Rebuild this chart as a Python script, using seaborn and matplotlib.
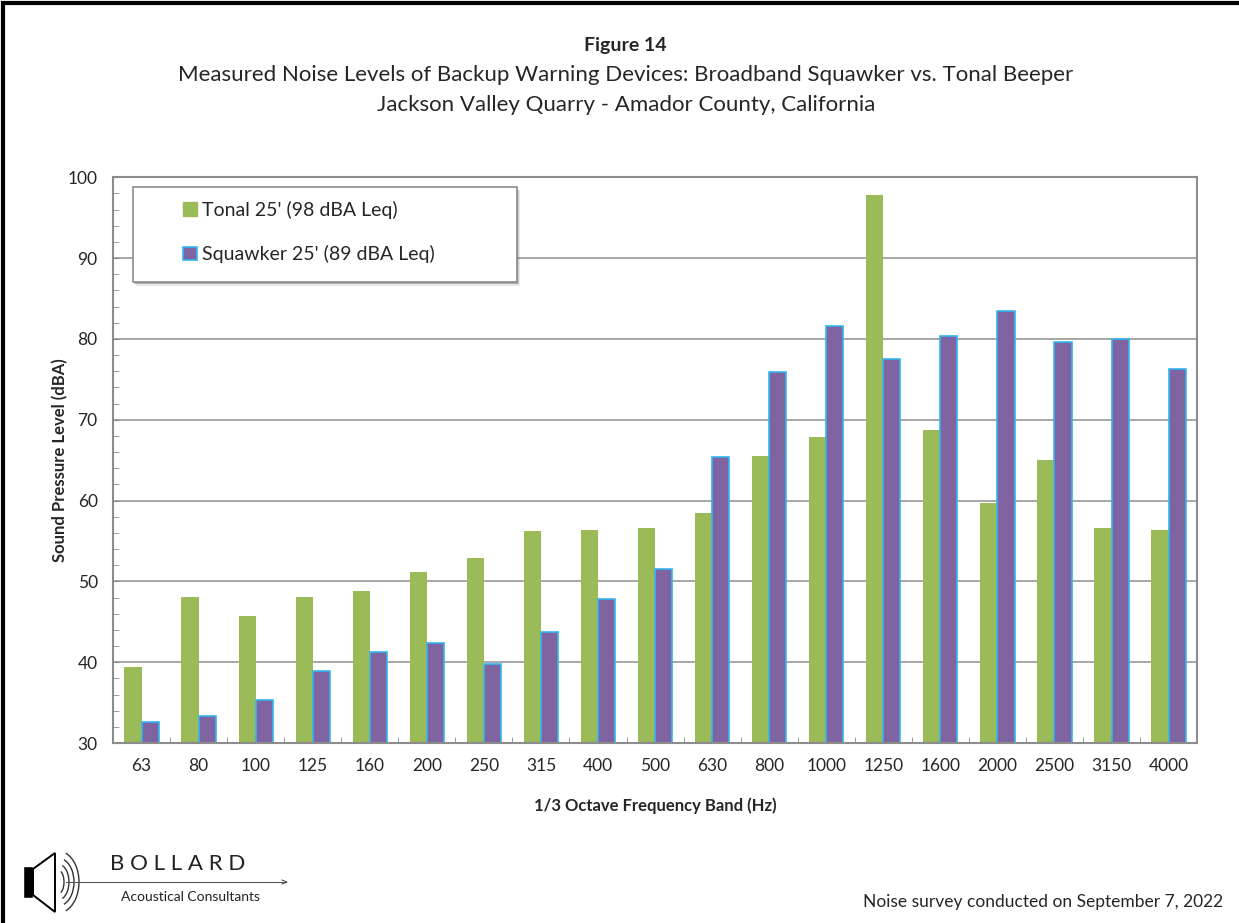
import numpy as np
import pandas as pd
import matplotlib
matplotlib.use('Agg')
import matplotlib.pyplot as plt
import matplotlib.patches as mpatches
from matplotlib.patches import Arc, Polygon, Rectangle
from matplotlib.ticker import MultipleLocator
import seaborn as sns

# Data
bands = ['63', '80', '100', '125', '160', '200', '250', '315', '400', '500',
         '630', '800', '1000', '1250', '1600', '2000', '2500', '3150', '4000']
tonal = [39.4, 48.1, 45.7, 48.1, 48.8, 51.1, 52.9, 56.2, 56.3, 56.6,
         58.4, 65.5, 67.8, 97.8, 68.7, 59.7, 65.0, 56.6, 56.4]
squawker = [32.6, 33.4, 35.3, 38.9, 41.2, 42.4, 39.8, 43.7, 47.8, 51.5,
            65.4, 75.9, 81.6, 77.5, 80.4, 83.4, 79.6, 80.0, 76.3]
series_names = ["Tonal 25' (98 dBA Leq)", "Squawker 25' (89 dBA Leq)"]
colors = ['#9BBB59', '#8064A2']
edge_blue = '#33B5F0'

df = pd.DataFrame({
    'band': bands * 2,
    'level': tonal + squawker,
    'series': [series_names[0]] * len(bands) + [series_names[1]] * len(bands),
})

sns.set_style('white')
plt.rcParams['font.family'] = ['Lato', 'DejaVu Sans']

fig = plt.figure(figsize=(12.39, 9.23), dpi=100)
ax = fig.add_axes([0.0912, 0.195, 0.8750, 0.613])

sns.barplot(data=df, x='band', y='level', hue='series', order=bands,
            hue_order=series_names, palette=colors, width=0.6,
            saturation=1, ax=ax, legend=False)

for bar in ax.containers[0]:
    bar.set_linewidth(0)
for bar in ax.containers[1]:
    bar.set_edgecolor(edge_blue)
    bar.set_linewidth(1.2)

ax.set_ylim(30, 100)
ax.set_xlim(-0.5, len(bands) - 0.5)
ax.yaxis.set_major_locator(MultipleLocator(10))
ax.yaxis.set_minor_locator(MultipleLocator(2))
ax.grid(axis='y', which='major', color='#A0A0A0', linewidth=1.3)
ax.set_axisbelow(True)
for s in ax.spines.values():
    s.set_color('#8C8C8C')
    s.set_linewidth(1.5)
ax.tick_params(axis='y', which='both', direction='in', length=4, color='#8C8C8C',
               left=True, labelsize=12.5, pad=11)
ax.tick_params(axis='x', length=0, labelsize=12.5, pad=11)
ax.set_xticks(np.arange(len(bands) - 1) + 0.5, minor=True)
ax.tick_params(axis='x', which='minor', direction='in', length=4, color='#8C8C8C', bottom=True)

ax.set_xlabel('1/3 Octave Frequency Band (Hz)', fontsize=12, fontweight='bold', labelpad=17)
ax.set_ylabel('Sound Pressure Level (dBA)', fontsize=12, fontweight='bold')
ax.yaxis.set_label_coords(-0.041, 0.5)

# Legend box with drop shadow, drawn in axes coordinates
box_x0, box_x1 = 0.0185, 0.3727
box_y0, box_y1 = 0.8145, 0.982
for off, alpha in [(0.006, 0.15), (0.004, 0.25), (0.0025, 0.35)]:
    ax.add_patch(Rectangle((box_x0 + off * 0.5, box_y0 - off), box_x1 - box_x0, box_y1 - box_y0,
                           transform=ax.transAxes, facecolor='#707070', edgecolor='none',
                           alpha=alpha, zorder=9))
ax.add_patch(Rectangle((box_x0, box_y0), box_x1 - box_x0, box_y1 - box_y0,
                       transform=ax.transAxes, facecolor='white', edgecolor='#8C8C8C',
                       linewidth=1.2, zorder=10))

handles = [
    mpatches.Patch(facecolor=colors[0], edgecolor=colors[0], label=series_names[0]),
    mpatches.Patch(facecolor=colors[1], edgecolor=edge_blue, linewidth=1.2, label=series_names[1]),
]
leg = ax.legend(handles=handles, loc='upper left', bbox_to_anchor=(0.0646, 0.958),
                fontsize=14, frameon=False,
                handlelength=0.7, handleheight=0.7, handletextpad=0.3,
                labelspacing=1.35, borderpad=0, borderaxespad=0)
leg.set_zorder(11)

# Titles
fig.text(0.505, 0.951, 'Figure 14', ha='center', va='center', fontsize=14, fontweight='bold')
fig.text(0.505, 0.919, 'Measured Noise Levels of Backup Warning Devices: Broadband Squawker vs. Tonal Beeper',
         ha='center', va='center', fontsize=16)
fig.text(0.505, 0.886, 'Jackson Valley Quarry - Amador County, California',
         ha='center', va='center', fontsize=16)

fig.text(0.987, 0.0228, 'Noise survey conducted on September 7, 2022', ha='right', va='center', fontsize=12.5)

# Logo, drawn in pixel coordinates
lax = fig.add_axes([0, 0, 1, 1], zorder=-1)
lax.set_xlim(0, 1239)
lax.set_ylim(923, 0)
lax.axis('off')
lax.add_patch(Rectangle((23, 866), 10, 32, facecolor='black'))
lax.add_patch(Polygon([[33, 869], [33, 895], [55, 912], [55, 853]], closed=True,
                      facecolor='white', edgecolor='black', linewidth=1.4))
for w, h in [(12, 24), (22, 36), (32, 48), (42, 62)]:
    lax.add_patch(Arc((58, 882), w, h, theta1=-75, theta2=75, color='#333333', linewidth=1.0))
lax.plot([66, 286], [882, 882], color='#555555', linewidth=0.8)
lax.plot([282, 287, 282], [880, 882, 884], color='#555555', linewidth=0.8)
lax.text(110, 864, 'B O L L A R D', fontsize=16, va='center', ha='left', color='#222222')
lax.text(121, 897, 'Acoustical Consultants', fontsize=10, va='center', ha='left', color='#222222')

# Outer border
fig.add_artist(Rectangle((0.0025, -0.01), 1.1, 1.007, transform=fig.transFigure,
                         fill=False, edgecolor='black', linewidth=3))

fig.savefig('out.png', dpi=100)
